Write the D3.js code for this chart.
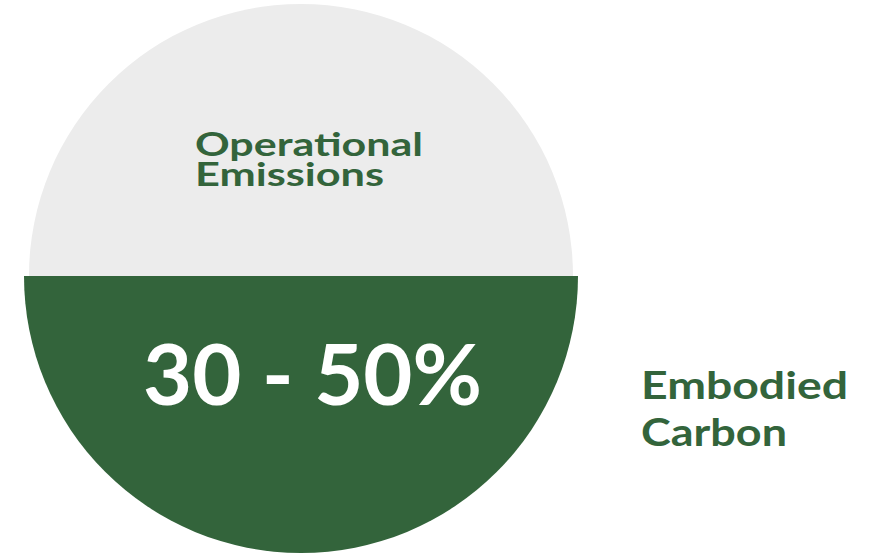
<!DOCTYPE html>
<html><head><meta charset="utf-8">
<script src="https://cdn.jsdelivr.net/npm/d3@7/dist/d3.min.js"></script>
<style>html,body{margin:0;padding:0;background:#fff;}svg{display:block;}</style>
</head><body>
<svg id="c" width="873" height="553"></svg>
<script>
const categories = ["Operational Emissions", "Embodied Carbon"];
const values = [50, 50];
const valueLabel = "30 - 50%";
const colors = ["#ececec", "#33643b"];
const radii = [272, 277];

const W = 873, H = 553, cx = 301, cy = 276;
const svg = d3.select("#c");
const g = svg.append("g").attr("transform", `translate(${cx},${cy})`);
const pie = d3.pie().sort(null).startAngle(-Math.PI/2).endAngle(3*Math.PI/2);
const arcs = pie(values);
g.selectAll("path").data(arcs).join("path")
  .attr("d", (d,i) => d3.arc().innerRadius(0).outerRadius(radii[i])(d))
  .attr("fill", (d,i) => colors[i]);

const font = "Lato, 'Open Sans', sans-serif";
function label(txt, x, y, size, len, fill, anchor) {
  svg.append("text").attr("x", x).attr("y", y)
    .attr("font-family", font).attr("font-weight", 700).attr("font-size", size)
    .attr("text-anchor", anchor || "start")
    .attr("textLength", len).attr("lengthAdjust", "spacingAndGlyphs")
    .attr("fill", fill).text(txt);
}
const op = categories[0].split(" ");
label(op[0], 195, 156, 33, 228, colors[1]);
label(op[1], 195, 186, 33, 189, colors[1]);

label(valueLabel, 143, 405, 84, 339, "#fff");

const em = categories[1].split(" ");
label(em[0], 641, 399, 38, 207, colors[1]);
label(em[1], 641, 446, 38, 146, colors[1]);
</script>
</body></html>
